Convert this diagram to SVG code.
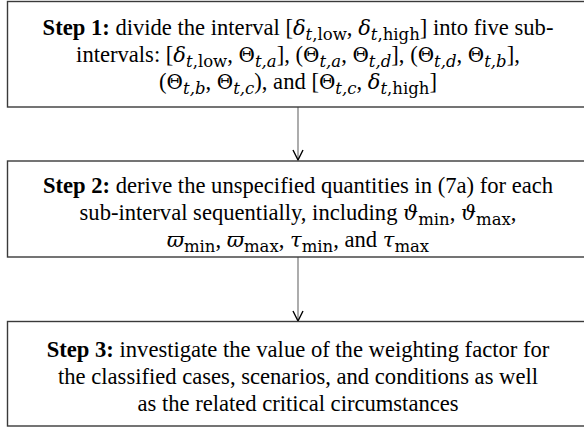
<svg xmlns="http://www.w3.org/2000/svg" width="584" height="427" viewBox="0 0 584 427">
<style>
.box{fill:#fff;stroke:#3a3a3a;stroke-width:1.4}
.t{font-family:"Liberation Serif","Times New Roman",serif;font-size:22.6px;fill:#000;text-anchor:middle}
.b{font-weight:bold}
.m{font-family:"DejaVu Serif",serif;font-style:italic;font-size:21px}
.u{font-family:"DejaVu Serif",serif;font-size:20px}
.s{font-family:"DejaVu Serif",serif;font-size:16.5px}
.si{font-style:italic}
.conn{stroke:#808080;stroke-width:1.3;fill:none}
.head{stroke:#000;stroke-width:1.4;fill:none}
</style>
<rect width="584" height="427" fill="#fff"/>
<g id="connectors">
<line class="conn" x1="298" y1="107" x2="298" y2="160"/>
<polyline class="head" points="293,150 298,160 303,150"/>
<line class="conn" x1="298" y1="257" x2="298" y2="321"/>
<polyline class="head" points="293,311 298,321 303,311"/>
</g>
<g id="step1">
<rect class="box" x="7.5" y="1.5" width="583" height="105.5"/>
<text class="t" x="298" y="35"><tspan class="b">Step 1:</tspan> divide the interval [<tspan class="m">δ</tspan><tspan class="s" baseline-shift="-4.5"><tspan class="si">t</tspan>,low</tspan>, <tspan class="m">δ</tspan><tspan class="s" baseline-shift="-4.5"><tspan class="si">t</tspan>,high</tspan>] into five sub-</text>
<text class="t" x="298" y="62">intervals: [<tspan class="m">δ</tspan><tspan class="s" baseline-shift="-4.5"><tspan class="si">t</tspan>,low</tspan>, <tspan class="u">Θ</tspan><tspan class="s si" baseline-shift="-4.5">t,a</tspan>], (<tspan class="u">Θ</tspan><tspan class="s si" baseline-shift="-4.5">t,a</tspan>, <tspan class="u">Θ</tspan><tspan class="s si" baseline-shift="-4.5">t,d</tspan>], (<tspan class="u">Θ</tspan><tspan class="s si" baseline-shift="-4.5">t,d</tspan>, <tspan class="u">Θ</tspan><tspan class="s si" baseline-shift="-4.5">t,b</tspan>],</text>
<text class="t" x="298" y="89">(<tspan class="u">Θ</tspan><tspan class="s si" baseline-shift="-4.5">t,b</tspan>, <tspan class="u">Θ</tspan><tspan class="s si" baseline-shift="-4.5">t,c</tspan>), and [<tspan class="u">Θ</tspan><tspan class="s si" baseline-shift="-4.5">t,c</tspan>, <tspan class="m">δ</tspan><tspan class="s" baseline-shift="-4.5"><tspan class="si">t</tspan>,high</tspan>]</text>
</g>
<g id="step2">
<rect class="box" x="7.5" y="161" width="583" height="96"/>
<text class="t" x="298" y="193"><tspan class="b">Step 2:</tspan> derive the unspecified quantities in (7a) for each</text>
<text class="t" x="298" y="220">sub-interval sequentially, including <tspan class="m">ϑ</tspan><tspan class="s" baseline-shift="-4.5">min</tspan>, <tspan class="m">ϑ</tspan><tspan class="s" baseline-shift="-4.5">max</tspan>,</text>
<text class="t" x="298" y="247"><tspan class="m">ϖ</tspan><tspan class="s" baseline-shift="-4.5">min</tspan>, <tspan class="m">ϖ</tspan><tspan class="s" baseline-shift="-4.5">max</tspan>, <tspan class="m">τ</tspan><tspan class="s" baseline-shift="-4.5">min</tspan>, and <tspan class="m">τ</tspan><tspan class="s" baseline-shift="-4.5">max</tspan></text>
</g>
<g id="step3">
<rect class="box" x="7.5" y="321.5" width="583" height="104.5"/>
<text class="t" x="298" y="357"><tspan class="b">Step 3:</tspan> investigate the value of the weighting factor for</text>
<text class="t" x="298" y="384">the classified cases, scenarios, and conditions as well</text>
<text class="t" x="298" y="411">as the related critical circumstances</text>
</g>
</svg>
